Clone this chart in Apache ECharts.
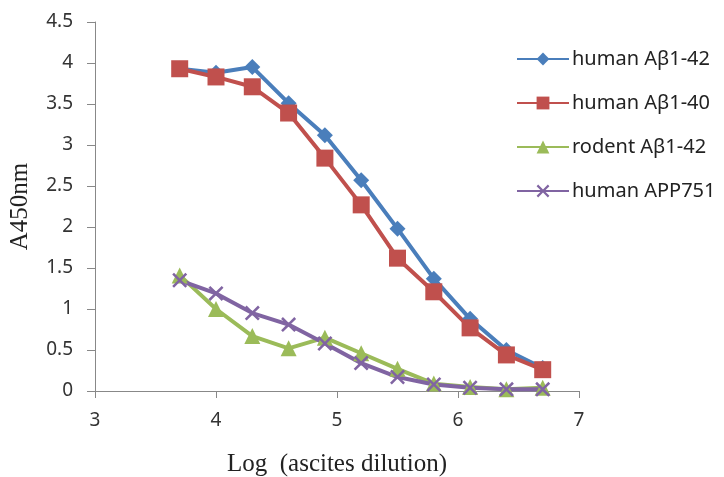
<!DOCTYPE html>
<html>
<head>
<meta charset="utf-8">
<script src="https://cdn.jsdelivr.net/npm/echarts@6/dist/echarts.min.js"></script>
<style>
  html, body { margin: 0; padding: 0; background: #fff; }
  #chart { width: 724px; height: 477px; }
</style>
</head>
<body>
<div id="chart"></div>
<script>
// log dilution on x, absorbance on y
var logDilution = [3.7, 4.0, 4.3, 4.6, 4.9, 5.2, 5.5, 5.8, 6.1, 6.4, 6.7];
var humanAb42  = [3.93, 3.88, 3.95, 3.51, 3.12, 2.57, 1.98, 1.37, 0.88, 0.5, 0.28];
var humanAb40  = [3.93, 3.83, 3.71, 3.39, 2.84, 2.27, 1.62, 1.21, 0.77, 0.44, 0.26];
var rodentAb42 = [1.41, 1.0, 0.67, 0.52, 0.65, 0.46, 0.27, 0.09, 0.05, 0.02, 0.04];
var humanApp   = [1.35, 1.19, 0.95, 0.81, 0.58, 0.34, 0.17, 0.08, 0.04, 0.02, 0.02];
var seriesNames = ['human Aβ1-42', 'human Aβ1-40', 'rodent Aβ1-42', 'human APP751'];

function pairs(ys) {
    var out = [];
    for (var i = 0; i < logDilution.length; i++) out.push([logDilution[i], ys[i]]);
    return out;
}

var crossPath = 'path://M0,1.2 L1.2,0 L5,3.8 L8.8,0 L10,1.2 L6.2,5 L10,8.8 L8.8,10 L5,6.2 L1.2,10 L0,8.8 L3.8,5 Z';

function line(name, ys, color, symbol, size) {
    return {
        name: name,
        type: 'line',
        data: pairs(ys),
        symbol: symbol,
        symbolSize: size,
        showAllSymbol: true,
        lineStyle: { color: color, width: 4 },
        itemStyle: { color: color }
    };
}

var myChart = echarts.init(document.getElementById('chart'));
myChart.setOption({
    animation: false,
    grid: { left: 95, right: 145, top: 22, bottom: 86, outerBoundsMode: 'none' },
    legend: {
        orient: 'vertical',
        left: 516,
        top: 49,
        padding: 0,
        itemWidth: 52,
        itemHeight: 16,
        itemGap: 24,
        textStyle: { fontFamily: 'Noto Sans', fontSize: 20, color: '#222', padding: [0, 0, 0, -2] },
        data: seriesNames
    },
    xAxis: {
        type: 'value',
        min: 3, max: 7, interval: 1,
        name: 'Log  (ascites dilution)',
        nameLocation: 'middle',
        nameGap: 61,
        nameTextStyle: { fontFamily: 'Liberation Serif', fontSize: 25, color: '#222' },
        axisLine: { lineStyle: { color: '#888' } },
        axisTick: { length: 7, lineStyle: { color: '#888' } },
        axisLabel: { fontFamily: 'Noto Sans', fontSize: 19, color: '#333', margin: 20 },
        splitLine: { show: false }
    },
    yAxis: {
        type: 'value',
        min: 0, max: 4.5, interval: 0.5,
        name: 'A450nm',
        nameLocation: 'middle',
        nameGap: 62,
        nameTextStyle: { fontFamily: 'Liberation Serif', fontSize: 25, color: '#222' },
        axisLine: { show: true, lineStyle: { color: '#888' } },
        axisTick: { show: true, length: 8, lineStyle: { color: '#888' } },
        axisLabel: { fontFamily: 'Noto Sans', fontSize: 19, color: '#333', margin: 22 },
        splitLine: { show: false }
    },
    series: [
        line(seriesNames[0], humanAb42, '#4a7ebb', 'diamond', 16),
        line(seriesNames[1], humanAb40, '#c0504d', 'rect', 17),
        line(seriesNames[2], rodentAb42, '#9bbb59', 'triangle', 16),
        line(seriesNames[3], humanApp, '#8064a2', crossPath, 15)
    ]
});
</script>
</body>
</html>
